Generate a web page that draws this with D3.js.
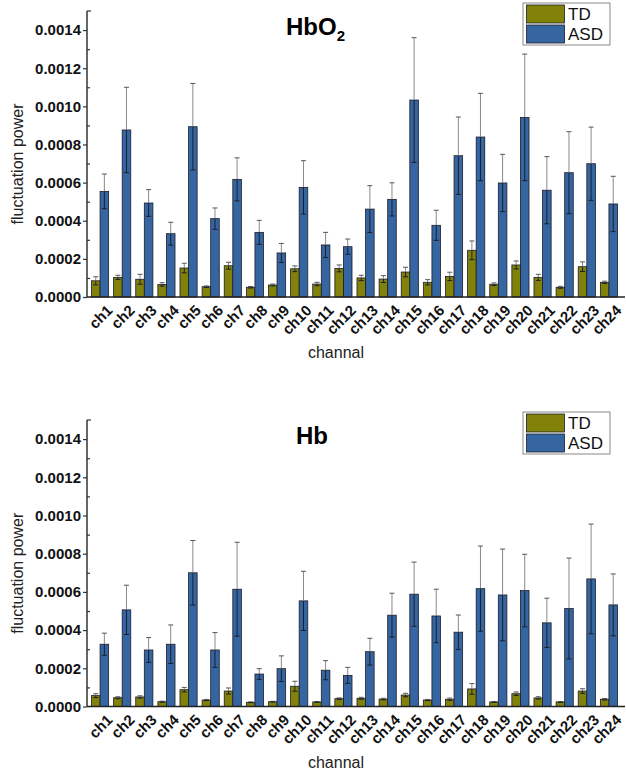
<!DOCTYPE html>
<html>
<head>
<meta charset="utf-8">
<script src="https://cdn.jsdelivr.net/npm/d3@7"></script>
<style>
  body { margin: 0; background: #fff; }
  svg { font-family: "Liberation Sans", Arial, sans-serif; }
</style>
</head>
<body>
<svg id="chart" width="626" height="772"></svg>
<script>
// channel labels along x
const channels = ["ch1","ch2","ch3","ch4","ch5","ch6","ch7","ch8","ch9","ch10","ch11","ch12",
                  "ch13","ch14","ch15","ch16","ch17","ch18","ch19","ch20","ch21","ch22","ch23","ch24"];
const groups = ["TD", "ASD"];
const yTicks = [0, 0.0002, 0.0004, 0.0006, 0.0008, 0.0010, 0.0012, 0.0014];
const yMinorTicks = [0.0001, 0.0003, 0.0005, 0.0007, 0.0009, 0.0011, 0.0013];

// HbO2 panel
const hbo2TD = [0.000085, 0.000103, 0.000093, 0.000066, 0.000152, 0.000054, 0.000164, 0.000051, 0.000063, 0.000148, 0.000068, 0.000150,
                0.000100, 0.000094, 0.000131, 0.000077, 0.000108, 0.000245, 0.000067, 0.000168, 0.000103, 0.000051, 0.000159, 0.000077];
const hbo2TDErr = [0.000021, 0.000011, 0.000026, 0.000009, 0.000025, 0.000004, 0.000018, 0.000004, 0.000005, 0.000015, 0.000009, 0.000018,
                   0.000014, 0.000018, 0.000025, 0.000014, 0.000022, 0.000049, 0.000007, 0.000021, 0.000016, 0.000005, 0.000025, 0.000006];
const hbo2ASD = [0.000554, 0.000876, 0.000493, 0.000332, 0.000893, 0.000411, 0.000617, 0.000339, 0.000231, 0.000575, 0.000273, 0.000264,
                 0.000461, 0.000512, 0.001033, 0.000376, 0.000741, 0.000839, 0.000598, 0.000942, 0.000560, 0.000652, 0.000699, 0.000488];
const hbo2ASDErr = [0.000091, 0.000224, 0.000070, 0.000060, 0.000227, 0.000056, 0.000113, 0.000063, 0.000050, 0.000140, 0.000066, 0.000040,
                    0.000123, 0.000087, 0.000327, 0.000079, 0.000203, 0.000229, 0.000150, 0.000332, 0.000176, 0.000215, 0.000192, 0.000145];

// Hb panel
const hbTD = [0.000057, 0.000046, 0.000050, 0.000025, 0.000088, 0.000034, 0.000081, 0.000022, 0.000025, 0.000106, 0.000024, 0.000041,
              0.000043, 0.000039, 0.000060, 0.000034, 0.000038, 0.000092, 0.000024, 0.000067, 0.000045, 0.000024, 0.000081, 0.000038];
const hbTDErr = [0.000010, 0.000005, 0.000006, 0.000003, 0.000012, 0.000003, 0.000016, 0.000002, 0.000002, 0.000026, 0.000002, 0.000004,
                 0.000005, 0.000004, 0.000009, 0.000003, 0.000006, 0.000028, 0.000002, 0.000009, 0.000006, 0.000002, 0.000012, 0.000004];
const hbASD = [0.000326, 0.000506, 0.000296, 0.000326, 0.000700, 0.000296, 0.000614, 0.000170, 0.000198, 0.000553, 0.000190, 0.000163,
               0.000287, 0.000478, 0.000588, 0.000474, 0.000389, 0.000617, 0.000584, 0.000607, 0.000438, 0.000513, 0.000668, 0.000532];
const hbASDErr = [0.000058, 0.000129, 0.000065, 0.000101, 0.000169, 0.000091, 0.000246, 0.000028, 0.000067, 0.000155, 0.000050, 0.000042,
                  0.000070, 0.000115, 0.000168, 0.000140, 0.000090, 0.000223, 0.000240, 0.000190, 0.000129, 0.000264, 0.000287, 0.000162];

const colors = { TD: "#82820a", ASD: "#3566a2" };

const svg = d3.select("#chart");

// shared x scales
const x0 = d3.scaleBand().domain(channels).range([89, 620]);
const x1 = d3.scaleBand().domain(groups).range([0, x0.bandwidth()]).paddingOuter(0.29);

function drawPanel(cfg) {
    const g = svg.append("g");
    const y = d3.scaleLinear().domain([0, 0.0015]).range([cfg.bottom, cfg.top]);
    const axisX = 87;

    // rows for bars
    const rows = [];
    channels.forEach((c, i) => {
        rows.push({ ch: c, grp: "TD", v: cfg.td[i], e: cfg.tdErr[i] });
        rows.push({ ch: c, grp: "ASD", v: cfg.asd[i], e: cfg.asdErr[i] });
    });

    g.selectAll("rect.bar")
        .data(rows)
        .enter()
        .append("rect")
        .attr("class", "bar")
        .attr("x", d => x0(d.ch) + x1(d.grp))
        .attr("y", d => y(d.v))
        .attr("width", x1.bandwidth())
        .attr("height", d => y(0) - y(d.v))
        .attr("fill", d => colors[d.grp])
        .attr("stroke", "#1c1c28")
        .attr("stroke-width", 0.8);

    const cx = d => x0(d.ch) + x1(d.grp) + x1.bandwidth() / 2;

    // error bar part above the bar (gray)
    g.selectAll("line.errUp")
        .data(rows)
        .enter()
        .append("line")
        .attr("x1", cx).attr("x2", cx)
        .attr("y1", d => y(d.v))
        .attr("y2", d => y(d.v + d.e))
        .attr("stroke", "#8a8a8a")
        .attr("stroke-width", 1);

    g.selectAll("line.errCap")
        .data(rows)
        .enter()
        .append("line")
        .attr("x1", d => cx(d) - 2.5).attr("x2", d => cx(d) + 2.5)
        .attr("y1", d => y(d.v + d.e))
        .attr("y2", d => y(d.v + d.e))
        .attr("stroke", "#555")
        .attr("stroke-width", 1);

    // error bar part inside the bar (dark)
    g.selectAll("line.errDown")
        .data(rows)
        .enter()
        .append("line")
        .attr("x1", cx).attr("x2", cx)
        .attr("y1", d => y(d.v))
        .attr("y2", d => y(Math.max(0, d.v - d.e)))
        .attr("stroke", "#1a1f2e")
        .attr("stroke-width", 1);

    g.selectAll("line.errLow")
        .data(rows)
        .enter()
        .append("line")
        .attr("x1", d => cx(d) - 2.5).attr("x2", d => cx(d) + 2.5)
        .attr("y1", d => y(Math.max(0, d.v - d.e)))
        .attr("y2", d => y(Math.max(0, d.v - d.e)))
        .attr("stroke", "#1a1f2e")
        .attr("stroke-width", 1);

    // y axis, major ticks outward
    const yAxis = g.append("g")
        .attr("transform", `translate(${axisX},0)`)
        .call(d3.axisLeft(y).tickValues(yTicks).tickSize(4).tickPadding(2)
            .tickFormat(d3.format(".4f")));
    yAxis.select(".domain").remove();
    yAxis.selectAll("text")
        .attr("font-size", 15)
        .attr("font-weight", "bold")
        .attr("fill", "#111")
        .attr("font-family", "'Liberation Sans', Arial, sans-serif");
    yAxis.selectAll("line").attr("stroke", "#333").attr("stroke-width", 1.2);

    // minor ticks inward
    const yMinor = g.append("g")
        .attr("transform", `translate(${axisX},0)`)
        .call(d3.axisLeft(y).tickValues(yMinorTicks).tickSize(-3).tickFormat(""));
    yMinor.select(".domain").remove();
    yMinor.selectAll("line").attr("stroke", "#333").attr("stroke-width", 1.2);

    // axis lines
    g.append("line")
        .attr("x1", axisX).attr("x2", axisX)
        .attr("y1", y(0.0015)).attr("y2", y(0))
        .attr("stroke", "#333").attr("stroke-width", 1.5);
    g.append("path")
        .attr("d", `M${axisX},${y(0.0015)}h4`)
        .attr("stroke", "#333").attr("stroke-width", 1.2);
    g.append("line")
        .attr("x1", axisX).attr("x2", 625)
        .attr("y1", y(0)).attr("y2", y(0))
        .attr("stroke", "#222").attr("stroke-width", 1.5);

    // x tick labels, rotated
    g.selectAll("text.xlab")
        .data(channels)
        .enter()
        .append("text")
        .attr("class", "xlab")
        .attr("transform", d => `translate(${x0(d) + x0.bandwidth() / 2 + 6},${y(0) + 7}) rotate(-45)`)
        .attr("text-anchor", "end")
        .attr("dy", "0.7em")
        .attr("font-size", 15)
        .attr("font-weight", "bold")
        .attr("fill", "#111")
        .text(d => d);

    // axis titles
    g.append("text")
        .attr("x", 336).attr("y", cfg.bottom + 61)
        .attr("text-anchor", "middle")
        .attr("font-size", 16)
        .attr("fill", "#222")
        .text("channal");

    g.append("text")
        .attr("transform", `translate(23,${(cfg.top + cfg.bottom) / 2 + 10}) rotate(-90)`)
        .attr("text-anchor", "middle")
        .attr("font-size", 16)
        .attr("fill", "#222")
        .text("fluctuation power");

    // panel title
    const t = g.append("text")
        .attr("x", cfg.titleX).attr("y", cfg.top + 24)
        .attr("font-size", 24)
        .attr("font-weight", "bold")
        .attr("fill", "#000");
    t.append("tspan").text(cfg.title);
    if (cfg.sub) {
        t.append("tspan").attr("font-size", 15).attr("dy", 6).text(cfg.sub);
    }

    // legend
    const lg = g.append("g").attr("transform", `translate(523,${cfg.top - 8})`);
    lg.append("rect")
        .attr("width", 87).attr("height", 42)
        .attr("fill", "#fff")
        .attr("stroke", "#888").attr("stroke-width", 1);
    groups.forEach((k, i) => {
        lg.append("rect")
            .attr("x", 3.5).attr("y", 2 + i * 20)
            .attr("width", 38).attr("height", 18)
            .attr("fill", colors[k])
            .attr("stroke", "#1c1c28").attr("stroke-width", 0.8);
        lg.append("text")
            .attr("x", 45).attr("y", 17 + i * 20)
            .attr("font-size", 17)
            .attr("fill", "#111")
            .text(k);
    });
}

drawPanel({ top: 11, bottom: 297, td: hbo2TD, tdErr: hbo2TDErr, asd: hbo2ASD, asdErr: hbo2ASDErr,
            title: "HbO", sub: "2", titleX: 286 });
drawPanel({ top: 420, bottom: 706.5, td: hbTD, tdErr: hbTDErr, asd: hbASD, asdErr: hbASDErr,
            title: "Hb", sub: null, titleX: 296 });
</script>
</body>
</html>
